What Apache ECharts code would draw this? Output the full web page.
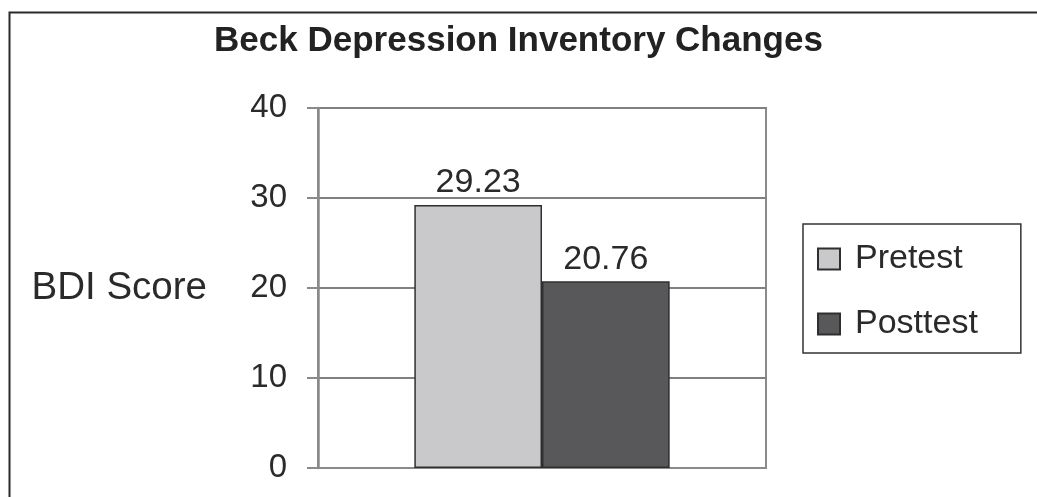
<!DOCTYPE html>
<html>
<head>
<meta charset="utf-8">
<script src="https://cdn.jsdelivr.net/npm/echarts@6/dist/echarts.min.js"></script>
<style>html,body{margin:0;padding:0;background:#fff;}#c{width:1037px;height:497px;}</style>
</head>
<body>
<div id="c"></div>
<script>
const categories = ['BDI'];
const seriesNames = ['Pretest', 'Posttest'];
const pretest = [29.23];
const posttest = [20.76];
const yTicks = [0, 10, 20, 30, 40];

const chart = echarts.init(document.getElementById('c'), null, {renderer: 'canvas'});
const font = 'Liberation Sans, Arial, sans-serif';
chart.setOption({
  animation: false,
  backgroundColor: '#fff',
  graphic: [{
    type: 'rect', left: 7, top: 10, z: 100,
    shape: {width: 1200, height: 700},
    style: {fill: 'none', stroke: '#2a2a2a', lineWidth: 2}
  }],
  title: {
    text: 'Beck Depression Inventory Changes',
    left: 'center', top: 19,
    textStyle: {fontFamily: font, fontSize: 35, fontWeight: 'bold', color: '#222'}
  },
  grid: {left: 318, top: 108, right: 271, bottom: 29, show: true, borderColor: '#8a8a8a', borderWidth: 2, backgroundColor: 'transparent'},
  legend: {
    data: seriesNames,
    orient: 'vertical',
    left: 803, top: 224,
    padding: [18, 43, 12, 14],
    itemWidth: 22, itemHeight: 21,
    itemGap: 31,
    icon: 'rect',
    borderColor: '#333', borderWidth: 1.5,
    textStyle: {fontFamily: font, fontSize: 34, color: '#2a2a2a', lineHeight: 34, padding: [0,0,0,10]}
  },
  xAxis: {
    type: 'category', data: categories,
    axisLine: {show: true, lineStyle: {color: '#8a8a8a', width: 2}},
    axisTick: {show: false}, axisLabel: {show: false}
  },
  yAxis: {
    type: 'value', min: yTicks[0], max: yTicks[yTicks.length - 1], interval: 10,
    name: 'BDI Score', nameLocation: 'middle', nameRotate: 0, nameGap: 111,
    nameTextStyle: {fontFamily: font, fontSize: 38.5, color: '#2a2a2a'},
    axisLine: {show: true, lineStyle: {color: '#8a8a8a', width: 2.5}},
    axisTick: {show: true, length: 11, lineStyle: {color: '#8a8a8a', width: 2}},
    axisLabel: {fontFamily: font, fontSize: 33, color: '#2a2a2a', margin: 31},
    splitLine: {show: true, lineStyle: {color: '#808080', width: 2}}
  },
  series: [{
    name: seriesNames[0], type: 'bar', data: pretest,
    barGap: '0%', barCategoryGap: '43%',
    itemStyle: {color: '#c9c9cb', borderColor: '#2f2f2f', borderWidth: 1.5},
    label: {show: true, position: 'top', distance: 5, fontFamily: font, fontSize: 34, color: '#2a2a2a', formatter: p => p.value.toFixed(2)}
  }, {
    name: seriesNames[1], type: 'bar', data: posttest,
    barGap: '0%', barCategoryGap: '43%',
    itemStyle: {color: '#58585a', borderColor: '#2f2f2f', borderWidth: 1.5},
    label: {show: true, position: 'top', distance: 5, fontFamily: font, fontSize: 34, color: '#2a2a2a', formatter: p => p.value.toFixed(2)}
  }]
});
</script>
</body>
</html>
